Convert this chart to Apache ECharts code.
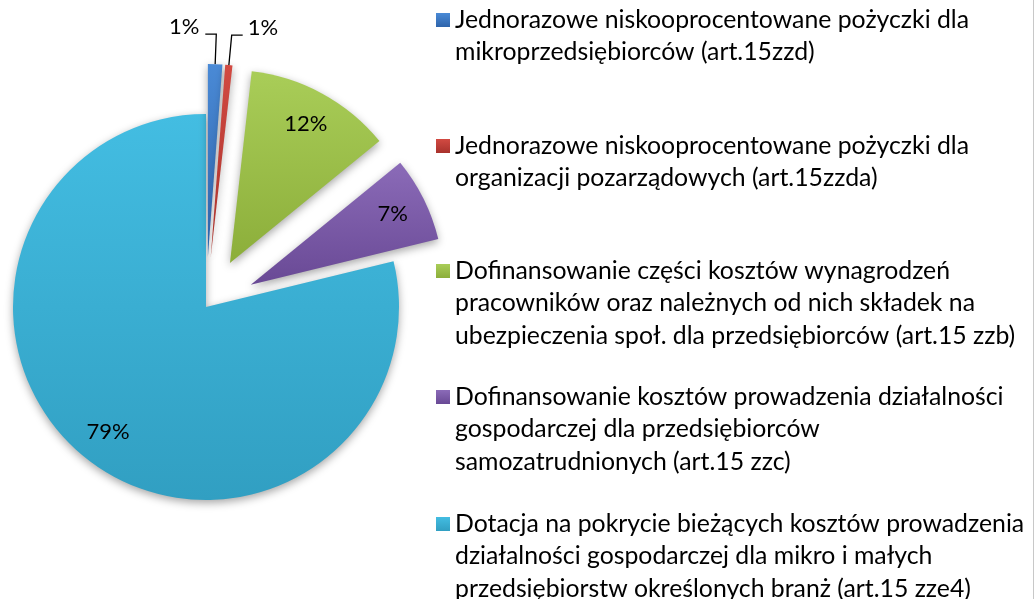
<!DOCTYPE html>
<html>
<head>
<meta charset="utf-8">
<script src="https://cdn.jsdelivr.net/npm/echarts@6/dist/echarts.min.js"></script>
<style>
  html, body { margin: 0; padding: 0; background: #fff; }
  #chart { width: 1033px; height: 599px; border-right: 1px solid #c8c8c8; }
</style>
</head>
<body>
<div id="chart"></div>
<script>
// data
const categories = [
  "Jednorazowe niskooprocentowane pożyczki dla\nmikroprzedsiębiorców (art.15zzd)",
  "Jednorazowe niskooprocentowane pożyczki dla\norganizacji pozarządowych (art.15zzda)",
  "Dofinansowanie części kosztów wynagrodzeń\npracowników oraz należnych od nich składek na\nubezpieczenia społ. dla przedsiębiorców (art.15 zzb)",
  "Dofinansowanie kosztów prowadzenia działalności\ngospodarczej dla przedsiębiorców\nsamozatrudnionych (art.15 zzc)",
  "Dotacja na pokrycie bieżących kosztów prowadzenia\ndziałalności gospodarczej dla mikro i małych\nprzedsiębiorstw określonych branż (art.15 zze4)"
];
const values = [1.2, 0.6, 12.3, 7.1, 78.8];
const exploded = [true, true, true, true, false];
const outsideLabel = [true, true, false, false, false];

const colorsTop = ["#4a8ad6", "#d24a42", "#a9cd58", "#8b6bb8", "#43bde2"];
const colorsBottom = ["#2e64ab", "#a8322c", "#8cae3a", "#694995", "#319fc2"];

const FONT = "Lato";
const center = [206, 307];
const R = 193;
const lineH = 32.5;
const legendRowY = [20, 146, 271, 397, 524];

const fmt = p => Math.round(p.percent) + "%";

const pieData = categories.map((name, i) => ({
  name: name,
  value: values[i],
  selected: exploded[i],
  itemStyle: {
    color: new echarts.graphic.LinearGradient(0, 0, 0, 1, [
      { offset: 0, color: colorsTop[i] },
      { offset: 1, color: colorsBottom[i] }
    ])
  },
  label: { show: outsideLabel[i], position: "outside" },
  labelLine: { show: outsideLabel[i] }
}));

const labelData = categories.map((name, i) => ({
  name: name,
  value: values[i],
  selected: exploded[i],
  label: { show: !outsideLabel[i] }
}));

// one legend per entry so the rows keep the fixed spacing of the original;
// blank lines in front keep the marker level with the first text line
const legends = categories.map((name, i) => {
  const n = name.split("\n").length;
  return {
    data: [name],
    orient: "vertical",
    left: 436,
    top: legendRowY[i] - (2 * n - 1) * lineH / 2,
    padding: 0,
    icon: "rect",
    itemWidth: 14,
    itemHeight: 14,
    selectedMode: false,
    formatter: nm => "\n".repeat(n - 1) + nm,
    textStyle: {
      fontFamily: FONT,
      fontSize: 24.8,
      color: "#000",
      lineHeight: lineH
    }
  };
});

const chart = echarts.init(document.getElementById("chart"), null, { renderer: "canvas" });

chart.setOption({
  animation: false,
  legend: legends,
  series: [
    {
      type: "pie",
      center: center,
      radius: R,
      selectedMode: "multiple",
      selectedOffset: 50,
      avoidLabelOverlap: false,
      silent: true,
      itemStyle: {
        shadowBlur: 8,
        shadowColor: "rgba(0,0,0,0.35)",
        shadowOffsetY: 3
      },
      select: { itemStyle: { borderWidth: 0 } },
      label: {
        fontFamily: FONT,
        fontSize: 22,
        color: "#000",
        formatter: fmt,
        distanceToLabelLine: 5
      },
      labelLine: {
        length: 30,
        length2: 11,
        lineStyle: { color: "#000", width: 1.3 }
      },
      // the two thin slices: first label goes to the left, text sits above the leader
      labelLayout: function (p) {
        if (p.dataIndex > 1 || !p.labelLinePoints) return {};
        const pts = p.labelLinePoints;
        const bend = pts[1];
        const len2 = Math.abs(pts[2][0] - bend[0]);
        const toLeft = p.dataIndex === 0;
        const endX = toLeft ? bend[0] - len2 : bend[0] + len2;
        return {
          dx: toLeft ? -(2 * len2 + 11 + p.labelRect.width) : 0,
          dy: -7,
          labelLinePoints: [pts[0], bend, [endX, bend[1]]]
        };
      },
      data: pieData
    },
    {
      // transparent ring that only carries the inner percentage labels
      type: "pie",
      center: center,
      radius: [118, R],
      selectedMode: "multiple",
      selectedOffset: 50,
      silent: true,
      itemStyle: { color: "rgba(0,0,0,0)" },
      select: { itemStyle: { color: "rgba(0,0,0,0)", borderWidth: 0 } },
      label: {
        position: "inside",
        fontFamily: FONT,
        fontSize: 22,
        color: "#000",
        formatter: fmt
      },
      labelLine: { show: false },
      data: labelData
    }
  ]
});
</script>
</body>
</html>
